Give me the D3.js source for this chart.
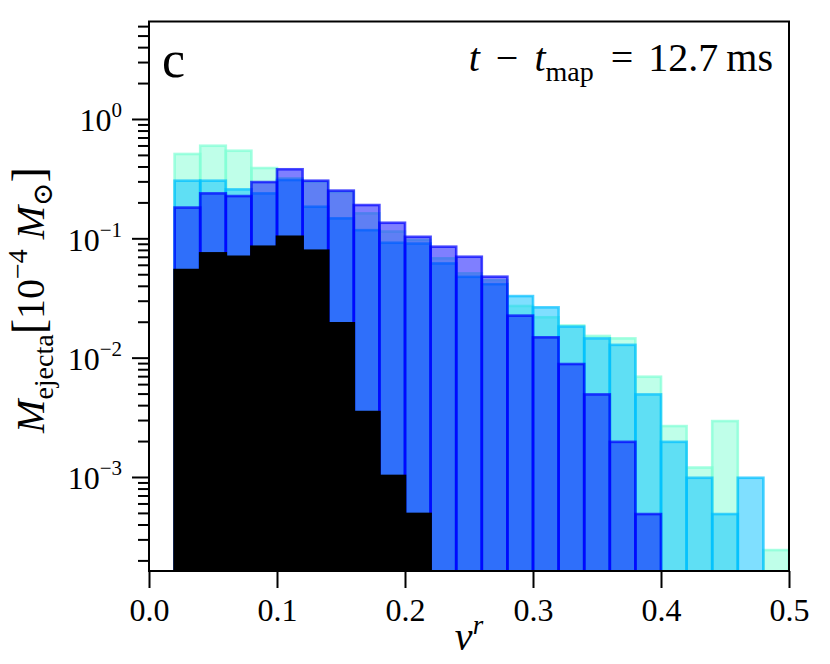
<!DOCTYPE html>
<html lang="en">
<head>
    <meta charset="UTF-8">
    <title>ejecta histogram</title>
    <script type="text/javascript" src="https://cdn.jsdelivr.net/npm/d3@7/dist/d3.min.js"></script>
    <style>
        body { margin: 0; background: #fff; }
        text { font-family: "Liberation Serif", "DejaVu Serif", serif; fill: #000; }
    </style>
</head>
<body>
<script type="text/javascript">
    let width = 830, height = 664;
    let margin = {left: 149, right: 41, top: 21.5, bottom: 93};

    // bin left edges, width 0.02
    let binLeft = [0.02, 0.04, 0.06, 0.08, 0.10, 0.12, 0.14, 0.16, 0.18, 0.20, 0.22, 0.24,
                   0.26, 0.28, 0.30, 0.32, 0.34, 0.36, 0.38, 0.40, 0.42, 0.44, 0.46, 0.48];
    let binWidth = 0.02;

    // ejecta mass per bin, in 1e-4 Msun (0 = empty bin)
    let massAqua = [0.509, 0.597, 0.542, 0.388, 0.318, 0.298, 0.245, 0.162, 0.114, 0.0968, 0.068, 0.0509,
                    0.0445, 0.0271, 0.0218, 0.0186, 0.0152, 0.0145, 0.00692, 0.00267, 0.00120, 0.00294, 0, 0.000244];
    let massSky = [0.304, 0.304, 0.257, 0.238, 0.308, 0.184, 0.147, 0.117, 0.0918, 0.0904, 0.0616, 0.0476,
                   0.0413, 0.0328, 0.0264, 0.0182, 0.0145, 0.0128, 0.00492, 0.00197, 0.000985, 0.000489, 0.000985, 0];
    let massBlue = [0.181, 0.238, 0.226, 0.296, 0.379, 0.304, 0.251, 0.190, 0.135, 0.103, 0.0851, 0.0701,
                    0.0477, 0.0225, 0.0148, 0.00884, 0.00492, 0.00197, 0.000489, 0, 0, 0, 0, 0];
    let massBlack = [0.0542, 0.0748, 0.070, 0.085, 0.103, 0.0787, 0.0194, 0.0035, 0.00102, 0.00049, 0, 0,
                     0, 0, 0, 0, 0, 0, 0, 0, 0, 0, 0, 0];

    let xTicks = [0.0, 0.1, 0.2, 0.3, 0.4, 0.5];
    let yMajor = [1e-3, 1e-2, 1e-1, 1];
    let yExponents = ['\u22123', '\u22122', '\u22121', '0'];

    let series = [
        {values: massAqua, color: 'aquamarine', alpha: 0.5},
        {values: massSky, color: 'deepskyblue', alpha: 0.5},
        {values: massBlue, color: 'blue', alpha: 0.5},
        {values: massBlack, color: 'black', alpha: 1}
    ];

    let svg = d3.select('body').append('svg')
        .attr('width', width)
        .attr('height', height);

    let x = d3.scaleLinear().domain([0, 0.5]).range([margin.left, width - margin.right]);
    let y = d3.scaleLog().domain([1.63e-4, 6.56]).range([height - margin.bottom, margin.top]);

    svg.append('clipPath').attr('id', 'plot')
        .append('rect')
        .attr('x', x(0)).attr('y', y.range()[1])
        .attr('width', x(0.5) - x(0)).attr('height', y.range()[0] - y.range()[1]);

    let bars = svg.append('g').attr('clip-path', 'url(#plot)');
    series.forEach(function (s) {
        let rows = binLeft.map(function (b, i) { return {x0: b, v: s.values[i]}; })
            .filter(function (d) { return d.v > 0; });
        bars.append('g').selectAll('rect')
            .data(rows)
            .enter()
            .append('rect')
            .attr('x', function (d) { return x(d.x0); })
            .attr('width', function (d) { return x(d.x0 + binWidth) - x(d.x0); })
            .attr('y', function (d) { return y(d.v); })
            .attr('height', function (d) { return y.range()[0] + 10 - y(d.v); })
            .attr('fill', s.color)
            .attr('fill-opacity', s.alpha)
            .attr('stroke', s.color)
            .attr('stroke-opacity', Math.min(1, s.alpha + 0.2))
            .attr('stroke-width', 2.6);
    });

    // frame
    svg.append('rect')
        .attr('x', x(0)).attr('y', y.range()[1])
        .attr('width', x(0.5) - x(0)).attr('height', y.range()[0] - y.range()[1])
        .attr('fill', 'none').attr('stroke', '#000').attr('stroke-width', 2);

    // x axis
    let xAxis = svg.append('g')
        .attr('transform', 'translate(0,' + y.range()[0] + ')')
        .call(d3.axisBottom(x).tickValues(xTicks).tickFormat(d3.format('.1f')).tickSize(17).tickSizeOuter(0));
    xAxis.select('.domain').remove();
    xAxis.selectAll('line').attr('stroke-width', 2);
    xAxis.selectAll('text').attr('font-size', 32).attr('dy', 0).attr('y', 50);

    // y axis, minor ticks
    let minor = y.ticks().filter(function (d) { return yMajor.indexOf(d) < 0; });
    let yMinor = svg.append('g')
        .attr('transform', 'translate(' + x(0) + ',0)')
        .call(d3.axisLeft(y).tickValues(minor).tickFormat('').tickSize(11).tickSizeOuter(0));
    yMinor.select('.domain').remove();
    yMinor.selectAll('line').attr('stroke-width', 2);

    // y axis, major ticks with 10^n labels
    let yAxis = svg.append('g')
        .attr('transform', 'translate(' + x(0) + ',0)')
        .call(d3.axisLeft(y).tickValues(yMajor).tickFormat('').tickSize(17).tickSizeOuter(0));
    yAxis.select('.domain').remove();
    yAxis.selectAll('line').attr('stroke-width', 2);
    yAxis.selectAll('.tick').append('text')
        .attr('x', -27).attr('y', 12)
        .attr('text-anchor', 'end')
        .attr('font-size', 32)
        .each(function (d, i) {
            let t = d3.select(this);
            t.append('tspan').text('10');
            t.append('tspan').attr('font-size', 21).attr('dy', -14).text(yExponents[i]);
        });

    // panel label
    svg.append('text').attr('x', 162).attr('y', 77).attr('font-size', 52).text('c');

    // time annotation
    let ann = svg.append('text').attr('x', 773).attr('y', 71)
        .attr('text-anchor', 'end').attr('font-size', 40);
    ann.append('tspan').attr('font-style', 'italic').text('t');
    ann.append('tspan').attr('dx', 16).text('\u2212');
    ann.append('tspan').attr('dx', 16).attr('font-style', 'italic').text('t');
    ann.append('tspan').attr('font-size', 28).attr('dy', 10).text('map');
    ann.append('tspan').attr('dx', 17).attr('dy', -10).text('=');
    ann.append('tspan').attr('dx', 15).text('12.7');
    ann.append('tspan').attr('dx', 8).text('ms');

    // x label
    let xl = svg.append('text').attr('x', 469).attr('y', 650)
        .attr('text-anchor', 'middle').attr('font-size', 40);
    xl.append('tspan').attr('font-style', 'italic').text('v');
    xl.append('tspan').attr('font-style', 'italic').attr('font-size', 27).attr('dy', -16).text('r');

    // y label
    let yl = svg.append('text')
        .attr('transform', 'translate(44,300) rotate(-90)')
        .attr('text-anchor', 'middle').attr('font-size', 40);
    yl.append('tspan').attr('font-style', 'italic').text('M');
    yl.append('tspan').attr('font-size', 28).attr('dy', 9).text('ejecta');
    yl.append('tspan').attr('font-size', 46).attr('dy', -9).text('[');
    yl.append('tspan').text('10');
    yl.append('tspan').attr('font-size', 28).attr('dy', -17).text('\u22124');
    yl.append('tspan').attr('font-style', 'italic').attr('dy', 17).text(' M');
    yl.append('tspan').attr('font-size', 28).attr('dy', 8).text('\u2299');
    yl.append('tspan').attr('font-size', 46).attr('dy', -8).text(']');
</script>
</body>
</html>
